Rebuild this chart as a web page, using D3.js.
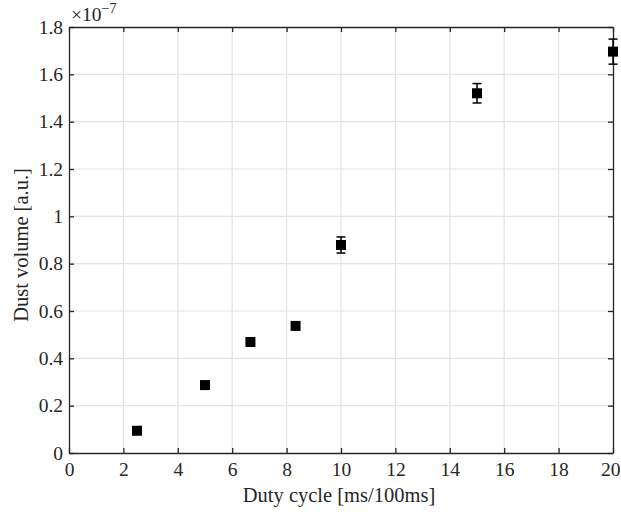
<!DOCTYPE html>
<html>
<head>
<meta charset="utf-8">
<script src="https://cdn.jsdelivr.net/npm/d3@7"></script>
<style>
  html, body { margin: 0; padding: 0; background: #fff; }
  svg text { font-family: "Liberation Serif", "DejaVu Serif", serif; fill: #262626; }
</style>
</head>
<body>
<div id="chart"></div>
<script>
// duty cycle values (ms per 100 ms)
const dutyCycle = [2.5, 5, 6.67, 8.33, 10, 15, 20];
// dust volume in units of 1e-7
const dustVolume = [0.094, 0.287, 0.469, 0.537, 0.879, 1.520, 1.696];
const dustError = [0, 0, 0, 0, 0.034, 0.041, 0.053];
const xTicks = [0, 2, 4, 6, 8, 10, 12, 14, 16, 18, 20];
const yTicks = [0, 0.2, 0.4, 0.6, 0.8, 1, 1.2, 1.4, 1.6, 1.8];

const width = 621, height = 512;
const margin = { top: 27, right: 8, bottom: 59, left: 69 };

const svg = d3.select("#chart").append("svg")
    .attr("width", width)
    .attr("height", height);

const x = d3.scaleLinear().domain([0, 20]).range([margin.left, width - margin.right]);
const y = d3.scaleLinear().domain([0, 1.8]).range([height - margin.bottom, margin.top]);

// grid
svg.append("g").selectAll("line.gx")
    .data(xTicks.slice(1, -1))
    .join("line")
    .attr("x1", d => x(d)).attr("x2", d => x(d))
    .attr("y1", y(0)).attr("y2", y(1.8))
    .attr("stroke", "#e3e3e3").attr("stroke-width", 1.2);
svg.append("g").selectAll("line.gy")
    .data(yTicks.slice(1, -1))
    .join("line")
    .attr("x1", x(0)).attr("x2", x(20))
    .attr("y1", d => y(d)).attr("y2", d => y(d))
    .attr("stroke", "#e3e3e3").attr("stroke-width", 1.2);

// axes
const fmt = d => d === 0 ? "0" : (Number.isInteger(d) ? String(d) : d.toFixed(1));
const xAxis = svg.append("g")
    .attr("transform", `translate(0,${y(0)})`)
    .call(d3.axisBottom(x).tickValues(xTicks).tickFormat(fmt).tickSizeInner(-5).tickSizeOuter(0).tickPadding(9));
const yAxis = svg.append("g")
    .attr("transform", `translate(${x(0)},0)`)
    .call(d3.axisLeft(y).tickValues(yTicks).tickFormat(fmt).tickSizeInner(-5).tickSizeOuter(0).tickPadding(6));
const xAxisTop = svg.append("g")
    .attr("transform", `translate(0,${y(1.8)})`)
    .call(d3.axisTop(x).tickValues(xTicks).tickFormat("").tickSizeInner(-5).tickSizeOuter(0));
const yAxisRight = svg.append("g")
    .attr("transform", `translate(${x(20)},0)`)
    .call(d3.axisRight(y).tickValues(yTicks).tickFormat("").tickSizeInner(-5).tickSizeOuter(0));

[xAxis, yAxis, xAxisTop, yAxisRight].forEach(g => {
    g.select(".domain").attr("stroke", "#262626").attr("stroke-width", 1.3);
    g.selectAll(".tick line").attr("stroke", "#262626").attr("stroke-width", 1.3);
    g.selectAll(".tick text").style("font-size", "19.5px").attr("fill", "#262626");
});
// last x label sits against the right edge
xAxis.selectAll(".tick text").filter(d => d === 20)
    .attr("text-anchor", "end").attr("x", width - x(20) - 1);

// error bars
const errData = dutyCycle.map((d, i) => ({ x: d, y: dustVolume[i], e: dustError[i] }))
const eb = svg.append("g").attr("stroke", "#000").attr("stroke-width", 1.5);
eb.selectAll("line.v").data(errData.filter(d => d.e > 0)).join("line")
    .attr("x1", d => x(d.x)).attr("x2", d => x(d.x))
    .attr("y1", d => y(d.y - d.e)).attr("y2", d => y(d.y + d.e));
eb.selectAll("line.t").data(errData.filter(d => d.e > 0)).join("line")
    .attr("x1", d => x(d.x) - 4.5).attr("x2", d => x(d.x) + 4.5)
    .attr("y1", d => y(d.y + d.e)).attr("y2", d => y(d.y + d.e));
eb.selectAll("line.b").data(errData.filter(d => d.e > 0)).join("line")
    .attr("x1", d => x(d.x) - 4.5).attr("x2", d => x(d.x) + 4.5)
    .attr("y1", d => y(d.y - d.e)).attr("y2", d => y(d.y - d.e));

// markers
const s = 10;
svg.append("g").selectAll("rect").data(errData).join("rect")
    .attr("x", d => x(d.x) - s / 2)
    .attr("y", d => y(d.y) - s / 2)
    .attr("width", s).attr("height", s)
    .attr("fill", "#000");

// labels
svg.append("text")
    .attr("x", (x(0) + x(20)) / 2 - 2)
    .attr("y", 502)
    .attr("text-anchor", "middle")
    .style("font-size", "20.5px")
    .text("Duty cycle [ms/100ms]");

svg.append("text")
    .attr("transform", `translate(28,245) rotate(-90)`)
    .attr("text-anchor", "middle")
    .style("font-size", "20.5px")
    .text("Dust volume [a.u.]");

const exp = svg.append("text")
    .attr("x", 71)
    .attr("y", 21)
    .style("font-size", "19.5px");
exp.append("tspan").text("×10");
exp.append("tspan").attr("dy", -8).style("font-size", "14px").text("−7");
</script>
</body>
</html>
